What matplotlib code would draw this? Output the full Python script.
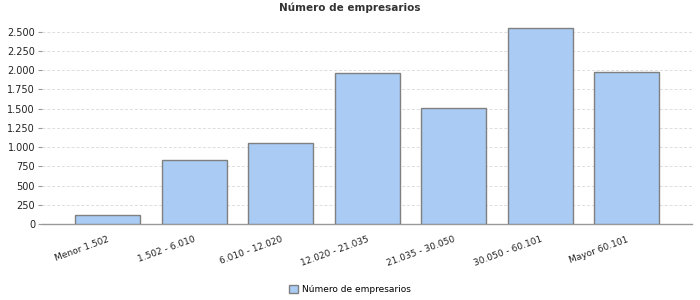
import matplotlib
matplotlib.use("Agg")
import matplotlib.pyplot as plt
from matplotlib.ticker import FuncFormatter
import numpy as np

categories = ["Menor 1.502", "1.502 - 6.010", "6.010 - 12.020", "12.020 - 21.035",
              "21.035 - 30.050", "30.050 - 60.101", "Mayor 60.101"]
values = [117, 829, 1050, 1962, 1506, 2548, 1979]
yticks = [0, 250, 500, 750, 1000, 1250, 1500, 1750, 2000, 2250, 2500]
title = "Número de empresarios"
series_name = "Número de empresarios"

plt.rcParams['font.family'] = ['DejaVu Sans']
fig = plt.figure(figsize=(7, 3), dpi=100)
ax = fig.add_axes([0.06, 0.2533, 0.929, 0.68])

x = np.arange(len(categories))
ax.bar(x, values, width=0.75, color="#A9CBF4", edgecolor="#808080", linewidth=1.0,
       zorder=3, label=series_name)

ax.set_xlim(-0.757, len(categories) - 1 + 0.757)
ax.set_ylim(0, 2650)
ax.set_yticks(yticks)
ax.yaxis.set_major_formatter(FuncFormatter(lambda v, p: f"{int(v):,}".replace(",", ".")))
ax.grid(axis='y', color="#DDDDDD", linestyle=(0, (3, 2)), linewidth=0.7, zorder=0)

for s in ['top', 'right', 'left']:
    ax.spines[s].set_visible(False)
ax.spines['bottom'].set_color("#999999")
ax.spines['bottom'].set_linewidth(1.0)

ax.tick_params(axis='y', length=3, color="#999999", labelsize=7, pad=2, labelcolor="#222222")
ax.tick_params(axis='x', length=0, labelsize=6.5, pad=8, labelcolor="#222222")
ax.set_xticks(x)
ax.set_xticklabels(categories, rotation=20, ha='right', rotation_mode='anchor')

fig.text(0.5, 0.973, title, ha='center', va='center', fontsize=7.5, fontweight='bold', color="#333333")

fig.legend(loc='center', bbox_to_anchor=(0.5, 0.035), frameon=False, fontsize=6.5,
           handlelength=1.0, handleheight=1.0, handletextpad=0.5)

fig.savefig("out.png", dpi=100)
